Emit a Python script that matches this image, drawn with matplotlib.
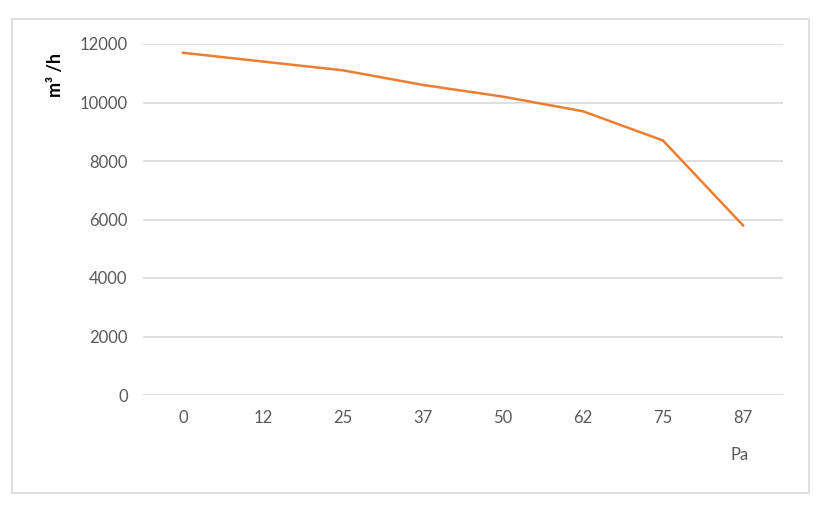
import numpy as np
import matplotlib.pyplot as plt
from matplotlib.patches import Rectangle

# === Data ===
pressure = ["0", "12", "25", "37", "50", "62", "75", "87"]
airflow = [11700, 11400, 11100, 10600, 10200, 9700, 8700, 5800]
y_ticks = [0, 2000, 4000, 6000, 8000, 10000, 12000]

plt.rcParams['font.family'] = ['Lato', 'DejaVu Sans']

fig = plt.figure(figsize=(8.3, 5.17), dpi=100)
ax = fig.add_axes([143 / 830, 1 - 395 / 517, 640 / 830, 351 / 517])

# border round the chart
fig.patches.append(Rectangle((12 / 830, 1 - 493 / 517), 797 / 830, 474 / 517,
                             transform=fig.transFigure, fill=False,
                             edgecolor="#D9D9D9", linewidth=1.2))

x = np.arange(len(pressure))
ax.plot(x, airflow, color="#ED7D31", linewidth=1.8, solid_joinstyle="round")

ax.set_xlim(-0.5, len(pressure) - 0.5)
ax.set_ylim(0, 12000)
ax.set_yticks(y_ticks)
ax.set_yticklabels([str(v) for v in y_ticks])
ax.set_xticks(x)
ax.set_xticklabels(pressure)

ax.grid(axis="y", color="#D9D9D9", linewidth=1.2)
ax.set_axisbelow(True)
for s in ax.spines.values():
    s.set_visible(False)
ax.tick_params(length=0, labelsize=12, colors="#595959")
ax.tick_params(axis="y", pad=11)
ax.tick_params(axis="x", pad=11)

fig.text(55 / 830, 1 - 75 / 517, "m³ /h", rotation=90, ha="center", va="center",
         fontsize=13, fontweight="bold", color="black")
fig.text(740 / 830, 1 - 455 / 517, "Pa", ha="center", va="center",
         fontsize=12, color="#595959")

fig.savefig("out.png", dpi=100)
